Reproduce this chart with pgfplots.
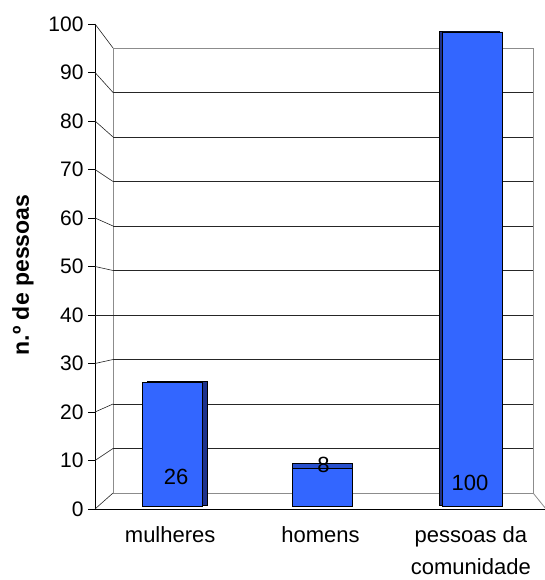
\documentclass[border=0pt]{standalone}
\usepackage{pgfplots}
\pgfplotsset{compat=1.18}
\usepackage{fontspec}
\setmainfont{Liberation Sans}

\definecolor{barBlue}{RGB}{51,102,255}
\definecolor{barSide}{RGB}{30,50,140}
\definecolor{barTop}{RGB}{40,80,205}
\definecolor{wallGray}{RGB}{140,140,140}

\begin{document}
\begin{tikzpicture}
\useasboundingbox (0,0) rectangle (544pt,580pt);

% --- frame: front value axis, back wall, floor, categories ---
\begin{axis}[
  at={(95pt,71pt)}, anchor=south west,
  scale only axis, width=451pt, height=485pt,
  xmin=-0.5, xmax=2.5, ymin=0, ymax=100,
  clip=false,
  axis x line=bottom, axis y line=left,
  axis line style={black, line width=0.9pt, -},
  ytick={0,10,...,100},
  xtick={0,1,2},
  xticklabels={mulheres, homens, {pessoas da\\[6pt]comunidade}},
  xtick style={draw=none},
  ytick style={black, line width=0.9pt},
  tick align=outside, major tick length=7pt,
  extra x ticks={-0.5,0.5,1.5},
  extra x tick labels={},
  extra x tick style={tick style={draw=black, line width=0.9pt}, major tick length=8pt},
  /pgf/number format/assume math mode=true,
  yticklabel style={font=\fontsize{21}{25}\selectfont, xshift=-1pt},
  xticklabel style={font=\fontsize{22}{26}\selectfont, align=center, yshift=-7pt},
]
% back wall (depth offset: x 95->113 px, value v -> 3.30+0.9175v)
\draw[wallGray, line width=0.8pt] (axis cs:-0.380,3.30) rectangle (axis cs:2.414,95.05);
\pgfplotsinvokeforeach{10,20,...,90}{
  \draw[black!85, line width=0.6pt] (axis cs:-0.380,{3.30+0.9175*#1}) -- (axis cs:2.414,{3.30+0.9175*#1});
}
\pgfplotsinvokeforeach{0,10,...,100}{
  \draw[black!85, line width=0.6pt] (axis cs:-0.5,#1) -- (axis cs:-0.380,{3.30+0.9175*#1});
}
\draw[wallGray, line width=0.8pt] (axis cs:2.414,3.30) -- (axis cs:2.5,0);
\end{axis}

% --- bars, on their own depth plane ---
\begin{axis}[
  at={(95pt,74pt)}, anchor=south west,
  scale only axis, width=451pt, height=474pt,
  xmin=-0.5, xmax=2.5, ymin=0, ymax=100,
  hide axis, clip=false,
  ybar, bar width=60pt, bar shift=2pt,
]
% depth faces
\addplot[fill=barSide, draw=black, line width=0.6pt, xshift=5pt, yshift=1pt] coordinates {(0,26)};
\addplot[fill=barTop, draw=black, line width=0.6pt, yshift=5pt] coordinates {(1,8)};
\addplot[fill=barSide, draw=black, line width=0.6pt, xshift=-4pt, yshift=1pt] coordinates {(2,100)};
% front faces
\addplot[fill=barBlue, draw=black, line width=0.9pt] coordinates {(0,26) (1,8) (2,100)};

\node[font=\fontsize{22}{26}\selectfont] at (axis cs:0.039,6.1) {26};
\node[font=\fontsize{22}{26}\selectfont] at (axis cs:1.02,8.65) {8};
\node[font=\fontsize{22}{26}\selectfont] at (axis cs:1.995,4.85) {100};
\end{axis}

\node[rotate=90, font=\bfseries\fontsize{23}{27}\selectfont] at (23pt,305pt) {n.º de pessoas};
\end{tikzpicture}
\end{document}
